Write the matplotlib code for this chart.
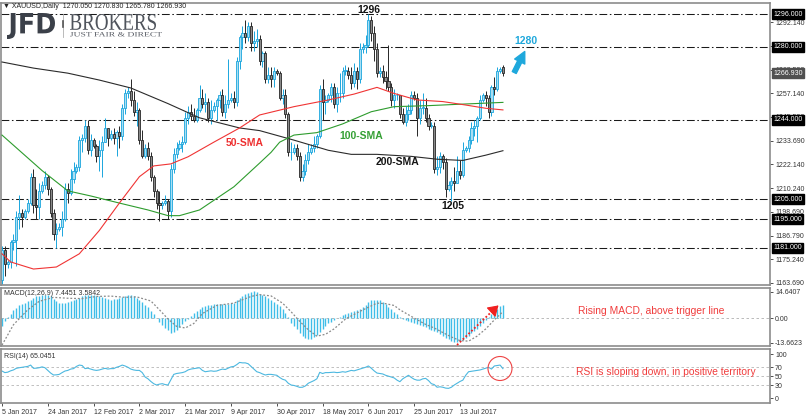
import numpy as np
import matplotlib.pyplot as plt
from matplotlib.font_manager import FontProperties
from matplotlib.lines import Line2D
from matplotlib.patches import Ellipse, FancyArrowPatch, PathPatch
from matplotlib.textpath import TextPath
from matplotlib.transforms import Affine2D, blended_transform_factory

plt.rcParams['font.family'] = ['Liberation Sans', 'DejaVu Sans']

# XAUUSD daily bars, 5 Jan 2017 .. 31 Jul 2017 (broker has Sunday bars)
opens = [1165, 1180,
         1173, 1174, 1184, 1185, 1196, 1198,
         1196, 1199, 1203, 1216, 1202, 1201,
         1209, 1212, 1216, 1210, 1198, 1188,
         1190, 1191, 1195, 1210, 1208, 1215,
         1219, 1221, 1234, 1235, 1241, 1229,
         1234, 1231, 1226, 1229, 1233, 1240,
         1235, 1237, 1235, 1238, 1236, 1250,
         1257, 1258, 1254, 1248, 1249, 1234,
         1226, 1230, 1226, 1216, 1209, 1203,
         1202, 1203, 1204, 1199, 1220, 1227,
         1230, 1232, 1233, 1245, 1248, 1246,
         1244, 1249, 1255, 1252, 1253, 1245,
         1249, 1251, 1254, 1256, 1248, 1252,
         1254, 1255, 1253, 1273, 1285,
         1287, 1285, 1290, 1282, 1283,
         1284, 1273, 1277, 1264, 1266, 1264,
         1268, 1267, 1255, 1256, 1247, 1228,
         1228, 1230, 1226, 1216, 1219, 1224,
         1228, 1230, 1232, 1236, 1259, 1253,
         1254, 1256, 1260, 1252, 1257, 1257,
         1268, 1268, 1266, 1262, 1268, 1264,
         1279, 1280, 1281, 1293, 1287, 1279,
         1267, 1268, 1265, 1263, 1260, 1254,
         1256, 1256, 1247, 1243, 1247, 1249,
         1256, 1255, 1245, 1250, 1250, 1245,
         1241, 1241, 1220, 1221, 1226, 1223,
         1210, 1212, 1214, 1213, 1219, 1217,
         1229, 1230, 1234, 1240, 1241, 1245,
         1254, 1256, 1255, 1248, 1260, 1259,
         1268, 1270.05]
highs = [1182, 1182,
         1175, 1185, 1188, 1199, 1207, 1200,
         1200, 1205, 1218, 1220, 1210, 1213,
         1214, 1219, 1217, 1211, 1200, 1193,
         1193, 1199, 1213, 1213, 1220, 1223,
         1222, 1236, 1237, 1244, 1244, 1237,
         1235, 1232, 1234, 1236, 1245, 1240,
         1239, 1240, 1239, 1241, 1252, 1259,
         1260, 1264, 1258, 1253, 1250, 1239,
         1232, 1233, 1228, 1217, 1210, 1209,
         1204, 1207, 1205, 1222, 1230, 1233,
         1234, 1236, 1248, 1251, 1252, 1250,
         1250, 1261, 1259, 1257, 1255, 1254,
         1253, 1255, 1258, 1259, 1256, 1274,
         1257, 1258, 1275, 1286, 1290,
         1293, 1292, 1292, 1288, 1289,
         1286, 1278, 1278, 1270, 1270, 1270,
         1269, 1268, 1259, 1259, 1248, 1233,
         1232, 1232, 1228, 1222, 1227, 1232,
         1232, 1236, 1237, 1261, 1264, 1256,
         1257, 1262, 1262, 1260, 1267, 1270,
         1271, 1270, 1270, 1272, 1270, 1282,
         1282, 1286, 1296, 1295, 1290, 1282,
         1270, 1271, 1268, 1281, 1262, 1259,
         1257, 1256, 1250, 1251, 1252, 1258,
         1258, 1257, 1254, 1257, 1255, 1247,
         1243, 1243, 1226, 1228, 1227, 1225,
         1214, 1216, 1221, 1226, 1224, 1233,
         1231, 1236, 1243, 1244, 1246, 1256,
         1257, 1258, 1256, 1261, 1265, 1270,
         1270, 1270.83]
lows = [1163, 1167,
        1171, 1171, 1180, 1172, 1190, 1191,
        1195, 1198, 1202, 1198, 1195, 1195,
        1208, 1210, 1207, 1196, 1185, 1181,
        1189, 1187, 1194, 1203, 1207, 1213,
        1218, 1219, 1228, 1233, 1227, 1226,
        1230, 1223, 1219, 1216, 1233, 1231,
        1234, 1232, 1226, 1230, 1234, 1247,
        1255, 1251, 1246, 1241, 1232, 1225,
        1225, 1224, 1214, 1206, 1200, 1194,
        1200, 1202, 1195, 1196, 1218, 1225,
        1229, 1228, 1232, 1242, 1244, 1243,
        1243, 1248, 1250, 1248, 1243, 1242,
        1248, 1244, 1250, 1246, 1245, 1250,
        1253, 1250, 1251, 1269, 1279,
        1282, 1283, 1278, 1278, 1280,
        1271, 1270, 1262, 1262, 1260, 1260,
        1266, 1254, 1252, 1245, 1226, 1224,
        1227, 1224, 1214, 1214, 1217, 1222,
        1227, 1228, 1230, 1235, 1244, 1247,
        1253, 1253, 1250, 1248, 1253, 1255,
        1266, 1264, 1259, 1260, 1259, 1262,
        1277, 1277, 1280, 1283, 1273, 1265,
        1265, 1262, 1259, 1258, 1251, 1250,
        1254, 1245, 1242, 1241, 1244, 1247,
        1254, 1236, 1242, 1247, 1243, 1239,
        1240, 1218, 1217, 1218, 1220, 1206,
        1209, 1204, 1209, 1213, 1215, 1216,
        1228, 1228, 1232, 1236, 1233, 1244,
        1253, 1251, 1245, 1246, 1256, 1258,
        1267, 1265.78]
closes = [1180, 1173,
          1174, 1184, 1185, 1196, 1198, 1196,
          1199, 1203, 1216, 1202, 1201, 1209,
          1212, 1216, 1210, 1198, 1188, 1190,
          1191, 1195, 1210, 1208, 1215, 1219,
          1221, 1234, 1235, 1241, 1229, 1234,
          1231, 1226, 1229, 1233, 1240, 1235,
          1237, 1235, 1238, 1236, 1250, 1257,
          1258, 1254, 1248, 1249, 1234, 1226,
          1230, 1226, 1216, 1209, 1203, 1202,
          1203, 1204, 1199, 1220, 1227, 1230,
          1232, 1233, 1245, 1248, 1246, 1244,
          1249, 1255, 1252, 1253, 1245, 1249,
          1251, 1254, 1256, 1248, 1252, 1254,
          1255, 1253, 1273, 1285, 1287,
          1285, 1290, 1282, 1283, 1284,
          1273, 1277, 1264, 1266, 1264, 1268,
          1267, 1255, 1256, 1247, 1228, 1228,
          1230, 1226, 1216, 1219, 1224, 1228,
          1230, 1232, 1236, 1259, 1253, 1254,
          1256, 1260, 1252, 1257, 1257, 1268,
          1268, 1266, 1262, 1268, 1264, 1279,
          1280, 1281, 1293, 1287, 1279, 1267,
          1268, 1265, 1263, 1260, 1254, 1256,
          1256, 1247, 1243, 1247, 1249, 1256,
          1255, 1245, 1250, 1250, 1245, 1241,
          1241, 1220, 1221, 1226, 1223, 1210,
          1212, 1214, 1213, 1219, 1217, 1229,
          1230, 1234, 1240, 1241, 1245, 1254,
          1256, 1255, 1248, 1260, 1259, 1268,
          1269, 1266.93]
last_price = 1266.93

# moving averages (bar index, value)
sma200_idx = [0, 11, 23, 34, 45, 58, 69, 83, 90, 102, 114, 122, 131, 143, 152, 161, 169, 175]
sma200 = [1272.5, 1269.5, 1267, 1263.6, 1259.7, 1252, 1245, 1240, 1238.7, 1234, 1229,
          1227, 1227, 1226, 1224.6, 1224, 1226.6, 1228.8]
sma100_idx = [0, 6, 14, 23, 31, 41, 51, 58, 62, 69, 81, 90, 94, 97, 102, 110, 119, 129,
              137, 149, 160, 175]
sma100 = [1236.5, 1229, 1219, 1209, 1206.5, 1203, 1199.6, 1196.8, 1196.8, 1199.6, 1211,
          1222.7, 1228, 1233, 1236.5, 1237.7, 1242, 1248, 1250.5, 1251, 1251.7, 1252.6]
sma50_idx = [0, 3, 11, 19, 27, 34, 41, 48, 53, 59, 65, 74, 83, 90, 102, 114, 123, 131,
             137, 145, 154, 162, 169, 175]
sma50 = [1178, 1174, 1170.5, 1171.5, 1178, 1189.5, 1203, 1216, 1221.3, 1222.3, 1225.8,
         1233, 1240, 1246.4, 1250.5, 1253.8, 1256.7, 1260, 1257, 1253.8, 1253, 1251.3,
         1249.7, 1248.9]

levels = [1296, 1280, 1244, 1205, 1195, 1181]
price_ticks = [1292.14, 1280.59, 1268.59, 1257.14, 1245.59, 1233.69, 1222.14, 1210.24,
               1198.69, 1186.79, 1175.24, 1163.69]

macd = [-4.5, -1.5, 0.5, 2.5, 4.5, 5.8, 7.0, 7.8, 8.5, 9.3,
        10.0, 11.2, 12.0, 12.5, 12.8, 13.0, 12.8, 12.0, 10.8, 9.2,
        8.3, 8.2, 8.5, 9.0, 9.3, 9.8, 10.5, 11.2, 12.2, 12.6,
        12.8, 13.0, 12.9, 12.5, 12.0, 11.5, 11.0, 10.5, 10.2, 10.4,
        10.8, 11.0, 11.5, 12.2, 12.6, 12.8, 12.2, 11.2, 10.0, 8.8,
        7.3, 6.0, 4.2, 2.2, 0.3, -2.0, -3.8, -5.3, -6.8, -8.2,
        -7.6, -6.5, -5.0, -3.5, -1.8, -0.3, 1.3, 2.8, 4.0, 5.2,
        6.2, 6.8, 7.2, 7.5, 7.7, 7.9, 8.0, 7.9, 7.8, 7.8,
        8.1, 8.6, 10.0, 11.3, 12.3, 13.2, 14.0, 14.6, 14.8, 14.3,
        13.6, 12.9, 12.1, 11.0, 10.0, 9.0, 7.9, 6.5, 4.8, 3.0,
        0.8, -2.5, -4.2, -6.0, -8.0, -9.8, -11.0, -11.5, -11.4, -10.6,
        -9.3, -7.5, -5.8, -4.3, -3.0, -2.0, -1.0, -0.2, 0.8, 1.5,
        2.2, 2.8, 3.3, 3.9, 4.5, 5.2, 6.3, 7.5, 8.8, 9.8,
        10.2, 10.3, 9.8, 9.0, 7.8, 6.3, 4.8, 3.3, 2.0, 0.6,
        -0.5, -1.2, -1.6, -2.2, -2.8, -3.3, -3.8, -4.5, -5.2, -5.8,
        -6.4, -7.0, -7.8, -8.8, -9.8, -10.8, -11.8, -12.6, -13.1, -13.3,
        -12.9, -12.0, -11.0, -9.7, -8.3, -7.0, -5.8, -4.2, -2.6, -1.2,
        0.5, 2.0, 3.2, 5.0, 6.5, 7.4]
signal_idx = [0, 4, 9, 13, 18, 23, 28, 33, 38, 43, 47, 52, 55, 58, 61, 64, 67, 70, 75, 81,
              87, 90, 94, 98, 101, 104, 107, 110, 113, 116, 120, 125, 131, 134, 137, 139,
              144, 148, 151, 154, 157, 160, 163, 166, 169, 172, 175]
signal = [-15, -3.7, 4.6, 9.3, 11.5, 11.0, 10.8, 12.0, 12.2, 11.5, 11.8, 9.5, 4.6, -0.5,
          -4.6, -5.5, -3.0, 2.5, 7.0, 8.3, 12.0, 13.0, 12.3, 8.3, 3.5, -1.8, -6.5, -10.0,
          -9.0, -6.0, -0.5, 3.7, 8.3, 8.0, 7.0, 4.6, 0.0, -3.5, -5.5, -8.0, -10.5, -12.5,
          -12.8, -10.0, -6.0, -1.0, 3.58]

rsi = [61.6, 58, 59, 62, 64, 67.7, 69, 70, 71, 72,
       75, 67.7, 68, 69, 71, 69, 63, 57, 52.6, 53,
       54, 58, 61.6, 63, 66, 67, 72, 75, 74, 67,
       68, 66, 64, 63, 64, 66, 67.7, 66, 67, 67,
       70, 72, 75, 73, 70, 66, 64, 63, 63, 58,
       48, 44, 38, 33, 30, 32, 33, 31, 30, 42,
       54, 56, 57, 58, 60, 64, 66, 67, 68, 69,
       63, 60, 61, 62, 61, 61.6, 64, 66, 65, 68,
       71, 72, 76, 81, 80, 80, 78, 72, 66, 60,
       58, 55, 52.6, 54, 54, 53, 52, 47, 43, 41,
       34, 30, 29, 27, 24.7, 25, 28, 34, 37, 40,
       44, 58.6, 56, 58, 58, 58.6, 59, 58, 58.6, 60,
       59, 61, 63, 62, 64, 66, 68, 70, 73, 68,
       62, 57, 56, 55, 52, 50, 48, 46, 41, 37.5,
       44, 48, 52, 47, 43, 41, 41, 44, 45, 40,
       33, 31, 25, 26, 25, 23, 22.5, 25, 30, 34,
       38, 41, 52, 60, 61, 62, 63, 64, 66, 68,
       70, 66, 73, 74, 75, 67]

date_labels = ['5 Jan 2017', '24 Jan 2017', '12 Feb 2017', '2 Mar 2017', '21 Mar 2017',
               '9 Apr 2017', '30 Apr 2017', '18 May 2017', '6 Jun 2017', '25 Jun 2017',
               '13 Jul 2017']

# ---------------------------------------------------------------- layout
W, H = 806, 415
fig = plt.figure(figsize=(W / 100, H / 100), dpi=100)


def fx(px):
    return px / W


def fy(py):
    return 1 - py / H


def pane(top, bottom):
    return fig.add_axes([fx(1), fy(bottom), 769 / W, (bottom - top) / H])


ax = pane(3, 285)
axm = pane(288, 346)
axr = pane(349, 403)

x = np.arange(len(closes))
for a in (ax, axm, axr):
    a.set_xlim(-0.35, 268.3)
    for s in a.spines.values():
        s.set_color('#8c8c8c')
        s.set_linewidth(1.2)
    a.yaxis.tick_right()
    a.tick_params(axis='y', direction='out', length=2.5, width=0.6, pad=1.2,
                  labelsize=5, colors='#333333')
    a.tick_params(axis='x', length=0)
    a.set_xticks([])

# ---------------------------------------------------------------- price
o, h, l, c = (np.array(v, dtype=float) for v in (opens, highs, lows, closes))
up = c >= o
bull_edge, bull_face = '#1aa6dd', '#a9def3'
bear_edge, bear_face = '#262626', '#8a8a8a'
ax.vlines(x, l, h, colors=[bull_edge if u else bear_edge for u in up], lw=0.7, zorder=2)
lo = np.minimum(o, c)
ht = np.maximum(np.abs(c - o), 0.4)
ax.bar(x[up], ht[up], bottom=lo[up], width=0.75, color=bull_face,
       edgecolor=bull_edge, lw=0.6, zorder=2.2)
ax.bar(x[~up], ht[~up], bottom=lo[~up], width=0.75, color=bear_face,
       edgecolor=bear_edge, lw=0.6, zorder=2.2)

ax.plot(sma200_idx, sma200, color='#2b2b2b', lw=0.8, zorder=3)
ax.plot(sma100_idx, sma100, color='#2e9c2e', lw=0.8, zorder=3)
ax.plot(sma50_idx, sma50, color='#f03434', lw=0.8, zorder=3)

for lv in levels:
    ax.axhline(lv, color='#1a1a1a', lw=0.75, dashes=(7.5, 2.5, 1.5, 2.5), zorder=1.5)

ax.set_ylim(1162.63, 1301.57)
ax.set_yticks(price_ticks)
# labels that sit fully under a level box are left blank, as in MT4
ax.set_yticklabels([f'{v:.3f}' if min(abs(v - lv) for lv in levels) > 1 else ''
                    for v in price_ticks])

bt = blended_transform_factory(ax.transAxes, ax.transData)
for lv in levels:
    ax.text(1.004, lv, f'{lv:.3f}', transform=bt, ha='left', va='center', fontsize=5,
            color='white', zorder=10,
            bbox=dict(boxstyle='square,pad=0.2', fc='black', ec='black'))
ax.text(1.004, last_price, f'{last_price:.3f}', transform=bt, ha='left', va='center',
        fontsize=5, color='white', zorder=10,
        bbox=dict(boxstyle='square,pad=0.2', fc='#505050', ec='#505050'))

# ---------------------------------------------------------------- MACD
axm.axhline(0, color='#b0b0b0', lw=0.6, ls=(0, (3, 3)))
axm.vlines(x, 0, macd, colors='#3fbde8', lw=1.0)
axm.plot(signal_idx, signal, color='#8a8a8a', lw=0.9, ls=(0, (1.5, 1.5)))
axm.set_ylim(-15.49, 16.69)
axm.set_yticks([14.6407, 0, -13.6623])
axm.set_yticklabels(['14.6407', '0.00', '-13.6623'])

# ---------------------------------------------------------------- RSI
for lv in (70, 50, 30):
    axr.axhline(lv, color='#b5b5b5', lw=0.6, ls=(0, (3, 3)))
axr.plot(x, rsi, color='#4cb8e0', lw=0.8)
axr.set_ylim(-10.6, 111.3)
axr.set_yticks([100, 70, 50, 30, 0])
axr.set_xticks(np.arange(len(date_labels)) * 16)
axr.set_xticklabels(date_labels, ha='left')
axr.tick_params(axis='x', length=2.5, width=0.6, pad=1.5, labelsize=5, colors='#333333')

# ---------------------------------------------------------------- texts
fig.text(fx(3), fy(6), '\u25bc XAUUSD,Daily  1270.050 1270.830 1265.780 1266.930',
         fontsize=5, va='center', color='#222222')
fig.text(fx(4), fy(293), 'MACD(12,26,9) 7.4451 3.5842', fontsize=5, va='center',
         color='#333333')
fig.text(fx(4), fy(356), 'RSI(14) 65.0451', fontsize=5, va='center', color='#333333')

bold = dict(fontsize=7.5, weight='bold', ha='center', va='center')
fig.text(fx(369), fy(10), '1296', color='#111111', **bold)
fig.text(fx(453), fy(205.5), '1205', color='#111111', **bold)
fig.text(fx(526), fy(41.5), '1280', color='#1fa8dc', **bold)
fig.text(fx(245), fy(143), '50-SMA', color='#ee3030', **bold)
fig.text(fx(361.5), fy(136), '100-SMA', color='#35a035', **bold)
fig.text(fx(397.5), fy(162), '200-SMA', color='#151515', **bold)

fig.text(fx(578), fy(310.5), 'Rising MACD, above trigger line', color='#f03c3c',
         fontsize=7.4, va='center')
fig.text(fx(576), fy(371.5), 'RSI is sloping down, in positive territory',
         color='#f03c3c', fontsize=7.4, va='center')

fig.add_artist(FancyArrowPatch((fx(513), fy(75)), (fx(526), fy(49)),
                               transform=fig.transFigure, color='#1fa8dc',
                               arrowstyle='simple,head_length=0.9,head_width=0.9,tail_width=0.35',
                               mutation_scale=9))
fig.add_artist(Line2D([fx(457), fx(496)], [fy(345), fy(307.5)], color='#f02020', lw=1.3,
                      ls=(0, (1, 1.2)), transform=fig.transFigure))
fig.add_artist(FancyArrowPatch((fx(493), fy(310.5)), (fx(500.5), fy(303.5)),
                               transform=fig.transFigure, color='#f02020',
                               arrowstyle='-|>,head_length=0.7,head_width=0.45',
                               mutation_scale=9, lw=0.8))
fig.add_artist(Ellipse((fx(500), fy(368.5)), 24 / W, 24 / H, transform=fig.transFigure,
                       fill=False, ec='#ee4444', lw=0.8))


# ---------------------------------------------------------------- logo
def fit_text(s, box, prop, color):
    x0, y0, x1, y1 = box
    tp = TextPath((0, 0), s, size=1, prop=prop)
    ext = tp.get_extents()
    tr = (Affine2D().translate(-ext.x0, -ext.y0)
          .scale((x1 - x0) / ext.width, (y1 - y0) / ext.height)
          .translate(x0, H - y1).scale(1 / W, 1 / H) + fig.transFigure)
    fig.add_artist(PathPatch(tp, transform=tr, fc=color, ec='none'))


fit_text('JFD', (7, 13, 55, 39), FontProperties(family='DejaVu Sans', weight='bold'), '#3b4049')
fit_text('BROKERS', (70, 14, 156, 30), FontProperties(family='Liberation Serif'), '#4f545c')
fit_text('JUST FAIR & DIRECT', (70, 32, 162, 36.5), FontProperties(family='Liberation Serif'),
         '#5a5e66')
fig.add_artist(Line2D([fx(63), fx(63)], [fy(14), fy(37)], color='#b0b0b0', lw=0.6,
                      transform=fig.transFigure))
fig.add_artist(Line2D([fx(63), fx(63)], [fy(21), fy(27)], color='#555555', lw=1.2,
                      transform=fig.transFigure))

fig.savefig('out.png', dpi=100)
